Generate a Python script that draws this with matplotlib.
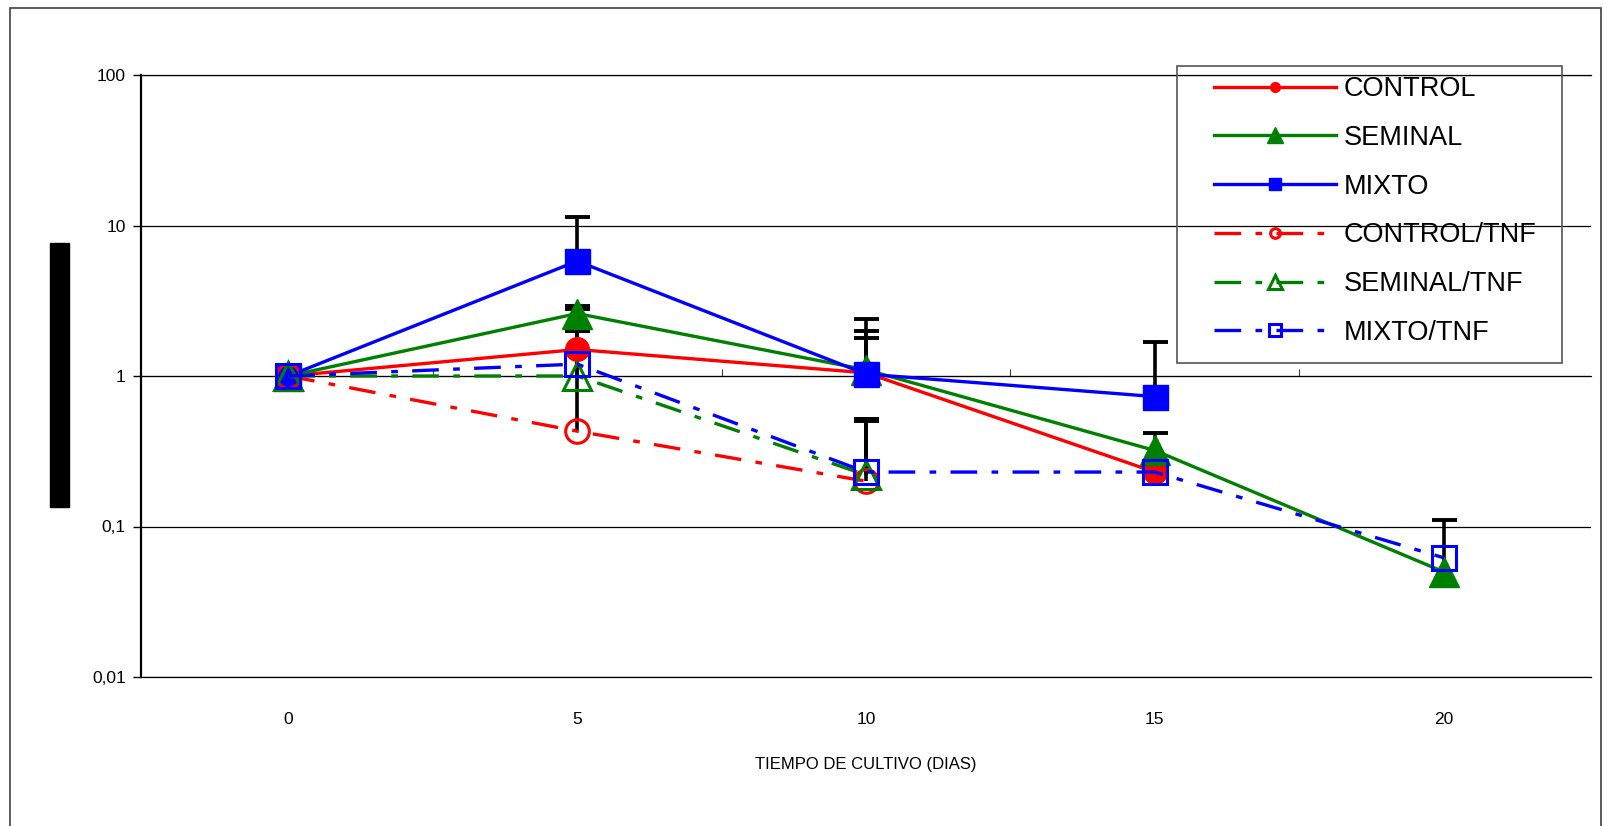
import numpy as np
import matplotlib
matplotlib.use('Agg')
import matplotlib.pyplot as plt
from matplotlib.lines import Line2D
from matplotlib.patches import Rectangle

plt.rcParams['font.family'] = ['Liberation Sans', 'DejaVu Sans']

dias = [0, 5, 10, 15, 20]
nan = np.nan

control = [1.0, 1.5, 1.05, 0.23, nan]
seminal = [1.0, 2.6, 1.1, 0.32, 0.05]
mixto = [1.0, 5.8, 1.03, 0.73, nan]
control_tnf = [1.0, 0.43, 0.20, nan, nan]
seminal_tnf = [1.0, 1.0, 0.22, nan, nan]
mixto_tnf = [1.0, 1.2, 0.23, 0.23, 0.062]

# only the "plus" error bars are drawn in the original
err_control = [0, 0.5, 1.33, 0, 0]
err_seminal = [0, 0.3, 0.9, 0.1, 0.06]
err_mixto = [0, 5.6, 0.75, 0.94, 0]
err_control_tnf = [0, 1.57, 0.32, 0, 0]
err_seminal_tnf = [0, 1.85, 0.28, 0, 0]
err_mixto_tnf = [0, 1.6, 0.29, 0, 0]

labels = ['CONTROL', 'SEMINAL', 'MIXTO', 'CONTROL/TNF', 'SEMINAL/TNF', 'MIXTO/TNF']
yticks = [0.01, 0.1, 1, 10, 100]
ytick_labels = ['0,01', '0,1', '1', '10', '100']

RED = '#FF0000'
GREEN = '#008000'
BLUE = '#0000FF'
dashdot = (8, 4.3, 2, 4.3)

series = [
    (control, err_control, RED, 'o', '-', True, 17, 7),
    (seminal, err_seminal, GREEN, '^', '-', True, 21, 11),
    (mixto, err_mixto, BLUE, 's', '-', True, 18, 9),
    (control_tnf, err_control_tnf, RED, 'o', dashdot, False, 17, 7),
    (seminal_tnf, err_seminal_tnf, GREEN, '^', dashdot, False, 20, 10),
    (mixto_tnf, err_mixto_tnf, BLUE, 's', dashdot, False, 17, 8),
]

W, H = 1604, 826
fig = plt.figure(figsize=(W / 100, H / 100), dpi=100)
ax = fig.add_axes([141 / W, 1 - 677 / H, (1591 - 141) / W, (677 - 75) / H])

x = np.array(dias, dtype=float)

# error bars first so the markers sit on top
for vals, err, col, mk, ls, filled, ms, lms in series:
    v = np.array(vals)
    e = np.array(err, dtype=float)
    ok = (e > 0) & ~np.isnan(v)
    ax.vlines(x[ok], v[ok], v[ok] + e[ok], color='black', lw=2.6, zorder=2)
    ax.plot(x[ok], v[ok] + e[ok], ls='none', marker='_', ms=18, mew=2.8,
            color='black', zorder=2)

handles = []
for (vals, err, col, mk, ls, filled, ms, lms), lab in zip(series, labels):
    v = np.array(vals)
    ok = ~np.isnan(v)
    kw = dict(color=col, lw=2.4, marker=mk, markeredgecolor=col)
    if filled:
        kw['markerfacecolor'] = col
        mew = 1
    else:
        kw['markerfacecolor'] = 'none'
        mew = 2.2
    if isinstance(ls, tuple):
        line, = ax.plot(x[ok], v[ok], ms=ms, mew=mew, zorder=3, **kw)
        line.set_dashes(ls)
        h = Line2D([], [], ms=lms, mew=mew, **kw)
        h.set_dashes(ls)
    else:
        ax.plot(x[ok], v[ok], ls=ls, ms=ms, mew=mew, zorder=3, **kw)
        h = Line2D([], [], ls=ls, ms=lms, mew=mew, **kw)
    handles.append(h)

ax.set_yscale('log')
ax.set_ylim(0.01, 100)
ax.set_xlim(-2.55, 22.55)
ax.set_yticks(yticks)
ax.set_yticklabels(ytick_labels)
ax.yaxis.set_minor_locator(matplotlib.ticker.NullLocator())
ax.yaxis.grid(True, color='black', lw=0.9)
ax.set_axisbelow(True)
ax.tick_params(axis='y', direction='out', length=6, width=1, labelsize=12.5, pad=5)
ax.set_xticks(dias)
ax.set_xticklabels([str(d) for d in dias])
ax.tick_params(axis='x', length=0, labelsize=12.5, pad=25)
ax.xaxis.set_minor_locator(matplotlib.ticker.NullLocator())

for s in ['right']:
    ax.spines[s].set_visible(False)
ax.spines['top'].set_linewidth(0.9)
ax.spines['bottom'].set_linewidth(0.9)
ax.spines['left'].set_linewidth(1.6)

# category axis crosses the log axis at 1, ticks between categories
sec = ax.secondary_xaxis(0.5)
sec.set_xticks([2.5, 7.5, 12.5, 17.5])
sec.set_xticklabels([])
sec.tick_params(axis='x', direction='out', length=5, width=0.8, color='#404040')
sec.spines['bottom'].set_visible(False)

ax.set_xlabel('TIEMPO DE CULTIVO (DIAS)', fontsize=12, labelpad=22)

fig.legend(handles, labels, loc='upper left',
           bbox_to_anchor=(1214 / W, 1 - 76 / H), frameon=False,
           fontsize=19.5, handlelength=4.5, handletextpad=0.3,
           labelspacing=0.84, borderpad=0, borderaxespad=0)

fig.patches.append(Rectangle((1177 / W, 1 - 363 / H), 385 / W, 297 / H,
                             transform=fig.transFigure, fill=False,
                             edgecolor='#555555', lw=1.2, zorder=5))
fig.patches.append(Rectangle((50 / W, 1 - 507 / H), 19 / W, 264 / H,
                             transform=fig.transFigure, color='black'))
fig.patches.append(Rectangle((10 / W, -0.01), (1601 - 10) / W, 1 - 8 / H + 0.01,
                             transform=fig.transFigure, fill=False,
                             edgecolor='#404040', lw=1.2))

fig.savefig('out.png', dpi=100)
